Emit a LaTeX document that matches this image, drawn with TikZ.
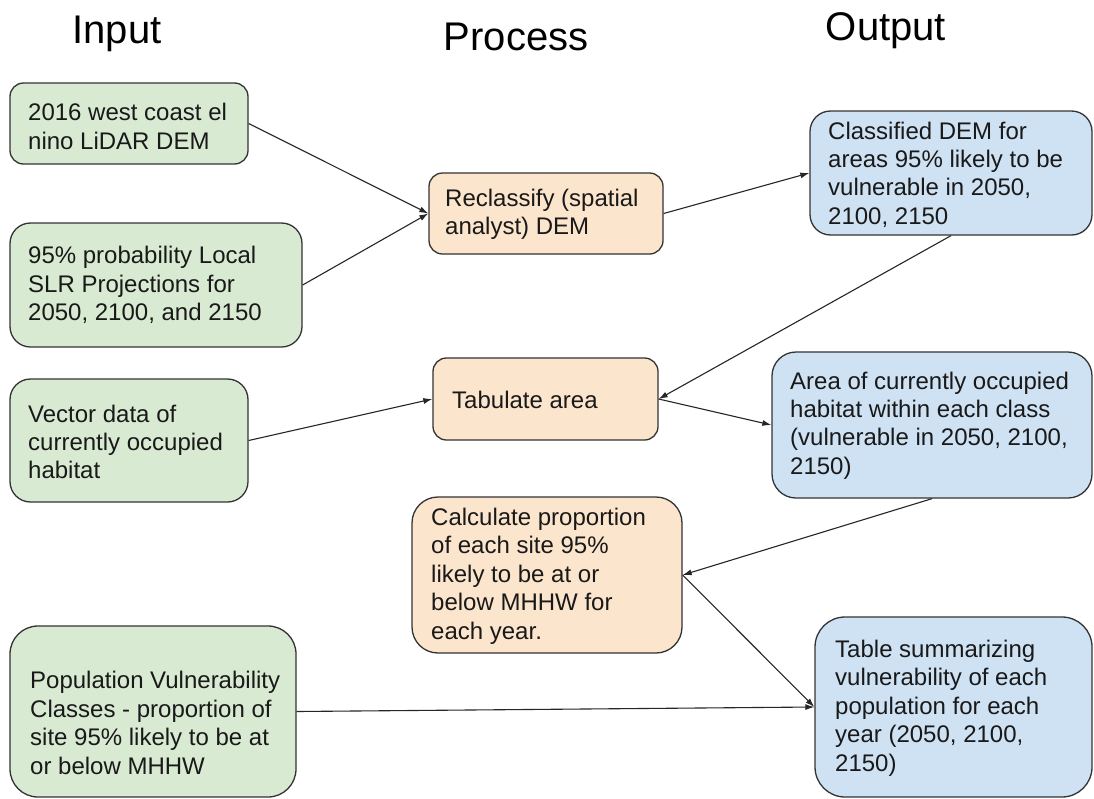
\documentclass[tikz,border=0pt]{standalone}
\usepackage{fontspec}
\setmainfont{Liberation Sans}
\usetikzlibrary{arrows.meta}
\definecolor{gfill}{HTML}{D9EAD3}
\definecolor{ofill}{HTML}{FCE5CD}
\definecolor{bfill}{HTML}{CFE2F3}
\definecolor{edgec}{HTML}{333333}
\begin{document}
\begin{tikzpicture}[x=1pt,y=-1pt,
  box/.style={draw=edgec, line width=1.3pt, inner sep=0pt},
  gbox/.style={box, fill=gfill},
  obox/.style={box, fill=ofill},
  bbox/.style={box, fill=bfill},
  txt/.style={font=\fontsize{24}{28.4}\selectfont, align=left, anchor=west, inner sep=0pt, text=black!90},
  hdr/.style={font=\fontsize{40}{48}\selectfont, anchor=base, inner sep=0pt, text=black},
  arr/.style={-{Latex[length=9pt,width=6pt]}, line width=1.1pt, draw=black!85}
]
\useasboundingbox[fill=white] (0,0) rectangle (1094,798);

% headers
\node[hdr] (hin) at (117,43) {Input};
\node[hdr] (hpr) at (516,50) {Process};
\node[hdr] (hout) at (886,40) {Output};

% input boxes
\node[gbox, minimum width=238pt, minimum height=81pt, rounded corners=13.5pt] (in1) at (129,123.5) {};
\node[txt] (in1t) at (28,126.5) {2016 west coast el\\nino LiDAR DEM};

\node[gbox, minimum width=292pt, minimum height=124pt, rounded corners=20.5pt] (in2) at (156,285) {};
\node[txt] (in2t) at (28,285) {95\% probability Local\\SLR Projections for\\2050, 2100, and 2150};

\node[gbox, minimum width=238pt, minimum height=123pt, rounded corners=20.5pt] (vec) at (129,440.5) {};
\node[txt] (vect) at (28,442) {Vector data of\\currently occupied\\habitat};

\node[gbox, minimum width=286pt, minimum height=171pt, rounded corners=28pt] (pop) at (153,711.5) {};
\node[txt] (popt) at (30,723) {Population Vulnerability\\Classes - proportion of\\site 95\% likely to be at\\or below MHHW};

% process boxes
\node[obox, minimum width=234pt, minimum height=81pt, rounded corners=13.5pt] (rec) at (546,213.5) {};
\node[txt] (rect) at (445,214) {Reclassify (spatial\\analyst) DEM};

\node[obox, minimum width=225pt, minimum height=82pt, rounded corners=13.5pt] (tab) at (545.5,399) {};
\node[txt] (tabt) at (452,400) {Tabulate area};

\node[obox, minimum width=270pt, minimum height=156pt, rounded corners=26pt] (calc) at (547,575) {};
\node[txt] (calct) at (431,576) {Calculate proportion\\of each site 95\%\\likely to be at or\\below MHHW for\\each year.};

% output boxes
\node[bbox, minimum width=282pt, minimum height=124pt, rounded corners=20.5pt] (cls) at (951,173) {};
\node[txt] (clst) at (828,174.5) {Classified DEM for\\areas 95\% likely to be\\vulnerable in 2050,\\2100, 2150};

\node[bbox, minimum width=320pt, minimum height=146pt, rounded corners=24pt] (area) at (932,425) {};
\node[txt] (areat) at (790,425.5) {Area of currently occupied\\habitat within each class\\(vulnerable in 2050, 2100,\\2150)};

\node[bbox, minimum width=277pt, minimum height=180pt, rounded corners=30pt] (table) at (953.5,707) {};
\node[txt] (tablet) at (835,708) {Table summarizing\\vulnerability of each\\population for each\\year (2050, 2100,\\2150)};

% connectors
\draw[arr] (in1.east) -- (rec.west);
\draw[arr] (in2.east) -- (rec.west);
\draw[arr] (rec.east) -- (cls.west);
\draw[arr] (cls.south) -- (tab.east);
\draw[arr] (vec.east) -- (tab.west);
\draw[arr] (tab.east) -- (area.west);
\draw[arr] (area.south) -- (calc.east);
\draw[arr] (calc.east) -- (table.west);
\draw[arr] (pop.east) -- (table.west);
\end{tikzpicture}
\end{document}
